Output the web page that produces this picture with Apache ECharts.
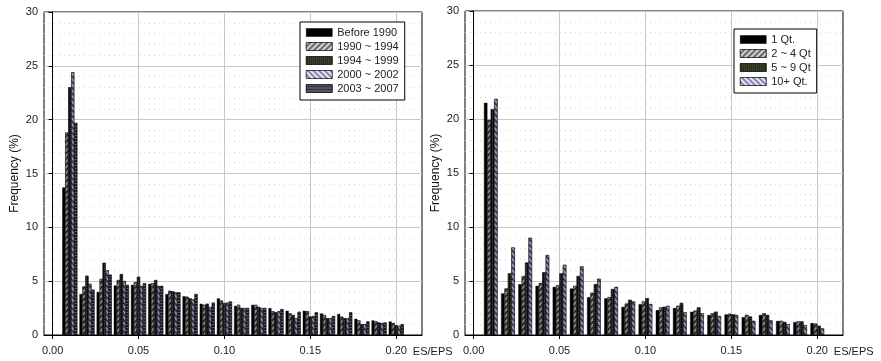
<!DOCTYPE html>
<html>
<head>
<meta charset="utf-8">
<script src="https://cdn.jsdelivr.net/npm/echarts@6/dist/echarts.min.js"></script>
<style>
  html, body { margin: 0; padding: 0; background: #fff; }
  #chart { width: 881px; height: 361px; }
</style>
</head>
<body>
<div id="chart"></div>
<script>
  // ES/EPS 分组频率
  const bins = [0.01, 0.02, 0.03, 0.04, 0.05, 0.06, 0.07, 0.08, 0.09, 0.10,
                0.11, 0.12, 0.13, 0.14, 0.15, 0.16, 0.17, 0.18, 0.19, 0.20];
  const xTicks = [0, 0.05, 0.10, 0.15, 0.20];

  const periodNames = ['Before 1990', '1990 ~ 1994', '1994 ~ 1999', '2000 ~ 2002', '2003 ~ 2007'];
  const before1990 = [13.7, 3.8, 4.0, 4.6, 4.65, 4.75, 3.8, 3.6, 2.9, 3.4, 2.7, 2.8, 2.5, 2.25, 2.25, 2.0, 1.95, 1.5, 1.35, 1.25];
  const p1990_1994 = [18.8, 4.5, 5.2, 5.1, 4.9, 4.8, 4.1, 3.55, 2.8, 3.2, 2.8, 2.8, 2.2, 2.0, 2.2, 1.85, 1.7, 1.35, 1.25, 1.1];
  const p1994_1999 = [23.0, 5.5, 6.7, 5.65, 5.4, 5.1, 4.05, 3.4, 2.9, 2.95, 2.5, 2.6, 2.1, 1.85, 1.7, 1.55, 1.55, 1.0, 1.15, 0.9];
  const p2000_2002 = [24.4, 4.75, 6.0, 5.0, 4.55, 4.55, 3.95, 3.3, 2.6, 3.0, 2.5, 2.5, 2.2, 1.55, 1.75, 1.55, 1.55, 1.0, 1.1, 0.85];
  const p2003_2007 = [19.7, 4.2, 5.6, 4.65, 4.8, 4.55, 3.95, 3.8, 3.0, 3.1, 2.5, 2.5, 2.4, 2.15, 2.1, 1.75, 2.1, 1.25, 1.15, 1.0];

  const qtNames = ['1 Qt.', '2 ~ 4 Qt', '5 ~ 9 Qt', '10+ Qt.'];
  const qt1 = [21.5, 3.85, 4.7, 4.55, 4.45, 4.3, 3.5, 3.4, 2.6, 2.85, 2.3, 2.5, 2.15, 1.85, 1.9, 1.65, 1.85, 1.3, 1.2, 1.1];
  const qt2to4 = [19.9, 4.3, 5.45, 4.8, 4.6, 4.55, 3.9, 3.5, 2.9, 3.1, 2.55, 2.7, 2.25, 2.0, 1.95, 1.85, 2.0, 1.3, 1.25, 1.05];
  const qt5to9 = [20.9, 5.7, 6.7, 5.8, 5.7, 5.45, 4.7, 4.25, 3.25, 3.4, 2.6, 2.95, 2.55, 2.15, 1.9, 1.7, 1.85, 1.2, 1.25, 0.85];
  const qt10plus = [21.85, 8.1, 9.0, 7.4, 6.5, 6.35, 5.2, 4.45, 3.1, 2.85, 2.7, 2.1, 2.0, 1.75, 1.85, 1.3, 1.35, 1.0, 0.9, 0.6];

  const FONT = 'Liberation Sans, Arial, sans-serif';

  function decal(color, dx, dy, rot) {
    return { symbol: 'rect', symbolSize: 1, color: color, dashArrayX: dx, dashArrayY: dy, rotation: rot };
  }

  // 柱子填充（深色）
  const barStyles = {
    solid: { color: '#000' },
    hatch: { color: '#2e2e2e', decal: decal('rgba(255,255,255,0.45)', [1, 0], [1.5, 1.5], -Math.PI / 4) },
    dots: { color: '#111', decal: decal('rgba(150,165,130,0.4)', [1, 1], [1, 1], 0) },
    lavender: { color: '#3c3c5c', decal: decal('rgba(225,225,255,0.55)', [1, 0], [1.5, 1.5], Math.PI / 4) },
    stripes: { color: '#1e1e26', decal: decal('rgba(150,150,170,0.5)', [1, 0], [1, 2], 0) }
  };
  // 图例色块（浅色）
  const legendStyles = {
    solid: { color: '#000' },
    hatch: { color: '#6a6a6a', decal: decal('rgba(235,235,235,0.8)', [1, 0], [1.5, 1.5], -Math.PI / 4) },
    dots: { color: '#1e2418', decal: decal('rgba(120,140,95,0.8)', [1, 1], [1, 1], 0) },
    lavender: { color: '#8686b8', decal: decal('rgba(255,255,255,0.8)', [1, 0], [1.5, 1.5], Math.PI / 4) },
    stripes: { color: '#34343f', decal: decal('rgba(140,140,160,0.7)', [1, 0], [1, 2], 0) }
  };
  const periodKeys = ['solid', 'hatch', 'dots', 'lavender', 'stripes'];
  const qtKeys = ['solid', 'hatch', 'dots', 'lavender'];

  function pairs(values) {
    return bins.map((b, i) => [b, values[i]]);
  }

  function makeX(gridIndex, nameGap) {
    return {
      type: 'value', gridIndex: gridIndex, min: -0.005, max: 0.215,
      name: 'ES/EPS', nameLocation: 'end', nameGap: nameGap,
      nameTextStyle: { fontFamily: FONT, fontSize: 11, color: '#222', align: 'left', verticalAlign: 'top', padding: [11, 0, 0, 0] },
      axisLine: { show: true, lineStyle: { color: '#000', width: 1 } },
      axisTick: { show: true, customValues: xTicks, length: 4, lineStyle: { color: '#000' } },
      axisLabel: { customValues: xTicks, margin: 10, fontFamily: FONT, fontSize: 11, color: '#222', formatter: v => v.toFixed(2) },
      splitLine: { show: true, lineStyle: { color: '#c9c9bd', width: 1 } }
    };
  }

  function makeY(gridIndex) {
    return {
      type: 'value', gridIndex: gridIndex, min: 0, max: 30, interval: 5,
      name: 'Frequency (%)', nameLocation: 'middle', nameGap: 23,
      nameTextStyle: { fontFamily: FONT, fontSize: 12, color: '#111' },
      axisLine: { show: true, lineStyle: { color: '#000', width: 1 } },
      axisTick: { show: true, length: 4, lineStyle: { color: '#000' } },
      axisLabel: { margin: 6, fontFamily: FONT, fontSize: 11, color: '#222' },
      splitLine: { show: true, lineStyle: { color: '#c9c9bd', width: 1 } },
      minorTick: { show: false, splitNumber: 5 },
      minorSplitLine: { show: true, lineStyle: { color: '#d6d6d6', width: 1, type: [1, 4] } }
    };
  }

  function makeBar(name, values, key, axisIndex, width) {
    return {
      name: name, type: 'bar', xAxisIndex: axisIndex, yAxisIndex: axisIndex,
      data: pairs(values), barWidth: width, barGap: '0%',
      itemStyle: Object.assign({ borderColor: '#000', borderWidth: 0.4 }, barStyles[key]),
      emphasis: { disabled: true }, animation: false
    };
  }

  function makeLegend(names, keys, left, top) {
    return {
      data: names.map((n, i) => ({ name: n, itemStyle: Object.assign({ borderColor: '#000', borderWidth: 0.5 }, legendStyles[keys[i]]) })),
      orient: 'vertical', left: left, top: top,
      backgroundColor: '#fff', borderColor: '#000', borderWidth: 1,
      padding: [4, 6, 5, 6], itemGap: 1, itemWidth: 26, itemHeight: 8,
      icon: 'rect',
      textStyle: { fontFamily: FONT, fontSize: 11, color: '#222', lineHeight: 13 }
    };
  }

  let myChart = echarts.init(document.getElementById('chart'), null, { renderer: 'canvas' });
  let option = {
    backgroundColor: '#fff',
    animation: false,
    grid: [
      { left: 44, right: 459, top: 12, bottom: 26, show: true, borderColor: '#000', borderWidth: 1 },
      { left: 465, right: 38, top: 11, bottom: 26, show: true, borderColor: '#000', borderWidth: 1 }
    ],
    legend: [
      makeLegend(periodNames, periodKeys, 300, 22),
      makeLegend(qtNames, qtKeys, 734, 29)
    ],
    xAxis: [makeX(0, -14), makeX(1, -13)],
    yAxis: [makeY(0), makeY(1)],
    series: [
      makeBar(periodNames[0], before1990, 'solid', 0, 3),
      makeBar(periodNames[1], p1990_1994, 'hatch', 0, 3),
      makeBar(periodNames[2], p1994_1999, 'dots', 0, 3),
      makeBar(periodNames[3], p2000_2002, 'lavender', 0, 3),
      makeBar(periodNames[4], p2003_2007, 'stripes', 0, 3),
      makeBar(qtNames[0], qt1, 'solid', 1, 3.4),
      makeBar(qtNames[1], qt2to4, 'hatch', 1, 3.4),
      makeBar(qtNames[2], qt5to9, 'dots', 1, 3.4),
      makeBar(qtNames[3], qt10plus, 'lavender', 1, 3.4)
    ]
  };
  myChart.setOption(option);
</script>
</body>
</html>
